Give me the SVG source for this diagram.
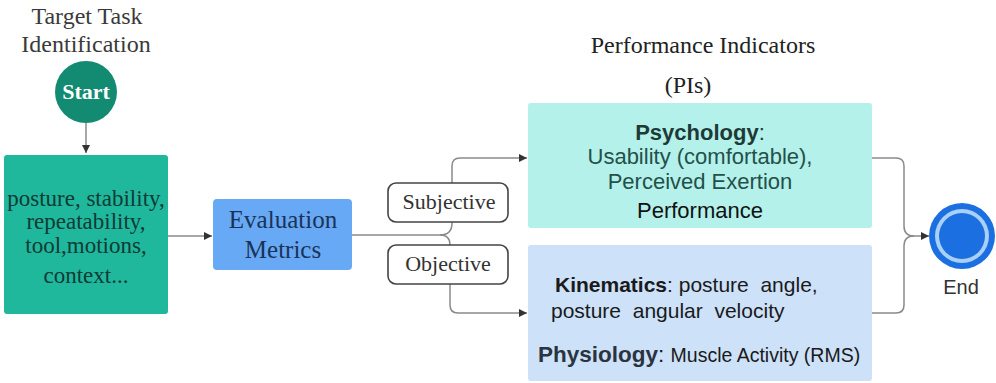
<svg xmlns="http://www.w3.org/2000/svg" width="996" height="383" viewBox="0 0 996 383">
  <defs>
    <marker id="arrow" viewBox="0 0 10 10" refX="10" refY="5" markerWidth="8" markerHeight="8" markerUnits="userSpaceOnUse" orient="auto">
      <path d="M0,0 L10,5 L0,10 z" fill="#333"/>
    </marker>
    <style>
      .serif { font-family: "Liberation Serif", "Times New Roman", serif; }
      .sans { font-family: "Liberation Sans", Arial, sans-serif; }
      .conn { fill: none; stroke: #8a8a8a; stroke-width: 1.5; }
      .tag { fill: #fff; stroke: #444; stroke-width: 1.6; }
    </style>
  </defs>
  <rect width="996" height="383" fill="#fff"/>

  <!-- headings -->
  <g id="title-target" class="serif" font-size="24" fill="#3a3a3a" text-anchor="middle">
    <text x="87" y="24">Target Task</text>
    <text x="86" y="52">Identification</text>
  </g>
  <g id="title-pi" class="serif" font-size="24" fill="#222" text-anchor="middle">
    <text x="703" y="53">Performance Indicators</text>
    <text x="688" y="93">(PIs)</text>
  </g>

  <!-- connectors -->
  <g id="connectors">
    <line class="conn" x1="86" y1="123" x2="86" y2="153" stroke="#444" marker-end="url(#arrow)"/>
    <line class="conn" x1="168" y1="236" x2="212" y2="236" stroke="#444" marker-end="url(#arrow)"/>
    <path class="conn" d="M352,235 H440 Q452,235 452,223 V166 Q452,158 460,158 H527" marker-end="url(#arrow)"/>
    <path class="conn" d="M440,235 Q450,235 450,245 V305 Q450,313 458,313 H527" marker-end="url(#arrow)"/>
    <path class="conn" d="M872,158 H896 Q904,158 904,166 V226 Q904,236 914,236 H929" marker-end="url(#arrow)"/>
    <path class="conn" d="M872,313 H896 Q904,313 904,305 V246 Q904,236 914,236"/>
  </g>

  <!-- start -->
  <g id="start">
    <circle cx="86" cy="92" r="31" fill="#138a72"/>
    <text x="86" y="99" class="serif" font-size="22" font-weight="bold" fill="#fff" text-anchor="middle">Start</text>
  </g>

  <!-- task attributes -->
  <g id="attributes">
    <rect x="4" y="155" width="164" height="159" rx="3" fill="#1fb89c"/>
    <g class="serif" font-size="23" fill="#0f3a36" text-anchor="middle">
      <text x="86" y="206">posture, stability,</text>
      <text x="86" y="229">repeatability,</text>
      <text x="86" y="253">tool,motions,</text>
      <text x="86" y="283">context...</text>
    </g>
  </g>

  <!-- evaluation metrics -->
  <g id="evaluation">
    <rect x="213" y="199" width="139" height="71" rx="4" fill="#67a9f4"/>
    <g class="serif" font-size="25" fill="#1a3358" text-anchor="middle">
      <text x="283" y="228">Evaluation</text>
      <text x="283" y="258">Metrics</text>
    </g>
  </g>

  <!-- branch labels -->
  <g id="subjective">
    <rect class="tag" x="388" y="183" width="120" height="39" rx="8"/>
    <text x="449" y="209" class="serif" font-size="22" fill="#333" text-anchor="middle">Subjective</text>
  </g>
  <g id="objective">
    <rect class="tag" x="388" y="245" width="120" height="39" rx="8"/>
    <text x="448" y="271" class="serif" font-size="22" fill="#333" text-anchor="middle">Objective</text>
  </g>

  <!-- psychology indicators -->
  <g id="psychology">
    <rect x="528" y="103" width="344" height="125" rx="3" fill="#b3f1ea"/>
    <g class="sans" font-size="22" text-anchor="middle">
      <text x="700" y="140" fill="#1e3a36"><tspan font-weight="bold">Psychology</tspan>:</text>
      <text x="700" y="164" fill="#24504a">Usability (comfortable),</text>
      <text x="700" y="189" fill="#24504a">Perceived Exertion</text>
      <text x="700" y="218" fill="#111">Performance</text>
    </g>
  </g>

  <!-- kinematics / physiology indicators -->
  <g id="kinematics">
    <rect x="528" y="245" width="344" height="136" rx="3" fill="#cde1f8"/>
    <g class="sans" fill="#1a1a1a">
      <text x="555" y="292" font-size="21" xml:space="preserve"><tspan font-weight="bold">Kinematics</tspan>: posture  angle,</text>
      <text x="551" y="318" font-size="21" xml:space="preserve">posture  angular  velocity</text>
      <text x="538" y="362" font-size="22.5" xml:space="preserve"><tspan font-weight="bold" fill="#2a3440">Physiology</tspan>: <tspan font-size="19.5">Muscle Activity (RMS)</tspan></text>
    </g>
  </g>

  <!-- end -->
  <g id="end">
    <circle cx="962" cy="236" r="33" fill="#1b6fe0"/>
    <circle cx="962" cy="236" r="27" fill="#a9d0f8"/>
    <circle cx="962" cy="236" r="23" fill="#1b6fe0"/>
    <text x="961" y="294" class="sans" font-size="20" fill="#333" text-anchor="middle">End</text>
  </g>
</svg>
